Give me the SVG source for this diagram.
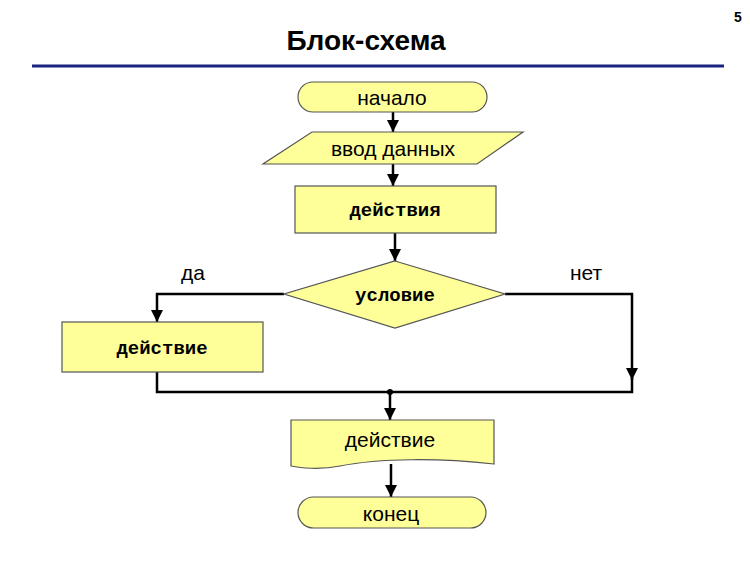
<svg xmlns="http://www.w3.org/2000/svg" width="750" height="562" viewBox="0 0 750 562">
<defs>
<marker id="ah" viewBox="0 0 10 10" refX="10" refY="5" markerWidth="5" markerHeight="5" orient="auto"><path d="M0,0L10,5L0,10z" fill="#000"/></marker>
<style>
.s{fill:#ffff99;stroke:#555;stroke-width:1.2}
.t{font-family:"Liberation Sans",Arial,sans-serif;font-size:21px;text-anchor:middle}
.m{font-family:"Liberation Mono","Courier New",monospace;font-weight:bold;font-size:19px;text-anchor:middle}
.c{fill:none;stroke:#000;stroke-width:2.5}
</style>
</defs>
<rect width="750" height="562" fill="#fff"/>
<text x="366" y="50" font-family="Liberation Sans,Arial,sans-serif" font-weight="bold" font-size="28" text-anchor="middle">Блок-схема</text>
<text x="738" y="22" font-family="Liberation Sans,Arial,sans-serif" font-weight="bold" font-size="14" text-anchor="middle">5</text>
<line x1="32" y1="66" x2="724" y2="66" stroke="#1a237e" stroke-width="3"/>
<g id="connectors">
<line class="c" x1="393" y1="112" x2="393" y2="132" marker-end="url(#ah)"/>
<line class="c" x1="393" y1="164" x2="393" y2="186" marker-end="url(#ah)"/>
<line class="c" x1="395" y1="233" x2="395" y2="261" marker-end="url(#ah)"/>
<polyline class="c" points="284,294 157,294 157,322" marker-end="url(#ah)"/>
<polyline class="c" points="505,294 632,294 632,380" marker-end="url(#ah)"/>
<polyline class="c" points="157,372 157,392 632,392 632,378"/>
<line class="c" x1="390" y1="392" x2="390" y2="420" marker-end="url(#ah)"/>
<circle cx="390" cy="392" r="3" fill="#000"/>
<line class="c" x1="391" y1="464" x2="391" y2="497" marker-end="url(#ah)"/>
</g>
<g id="start"><rect class="s" x="298" y="82" width="189" height="30" rx="15"/><text class="t" x="392" y="105">начало</text></g>
<g id="input"><polygon class="s" points="312,132 523,132 477,164 263,164"/><text class="t" x="393" y="156">ввод данных</text></g>
<g id="actions"><rect class="s" x="295" y="186" width="201" height="47"/><text class="m" x="395" y="216">действия</text></g>
<g id="cond"><polygon class="s" points="395,261 505,294 395,328 284,294"/><text class="m" x="395" y="301">условие</text></g>
<text class="t" x="193" y="280" font-size="17">да</text>
<text class="t" x="586" y="280" font-size="17">нет</text>
<g id="act-left"><rect class="s" x="62" y="322" width="201" height="50"/><text class="m" x="162" y="354">действие</text></g>
<g id="doc"><path class="s" d="M291,420H494V464C440,458 380,458 340,466C320,470 300,468 291,466Z"/><text class="t" x="390" y="447">действие</text></g>
<g id="end"><rect class="s" x="298" y="497" width="188" height="31" rx="15.5"/><text class="t" x="391" y="521">конец</text></g>
</svg>
